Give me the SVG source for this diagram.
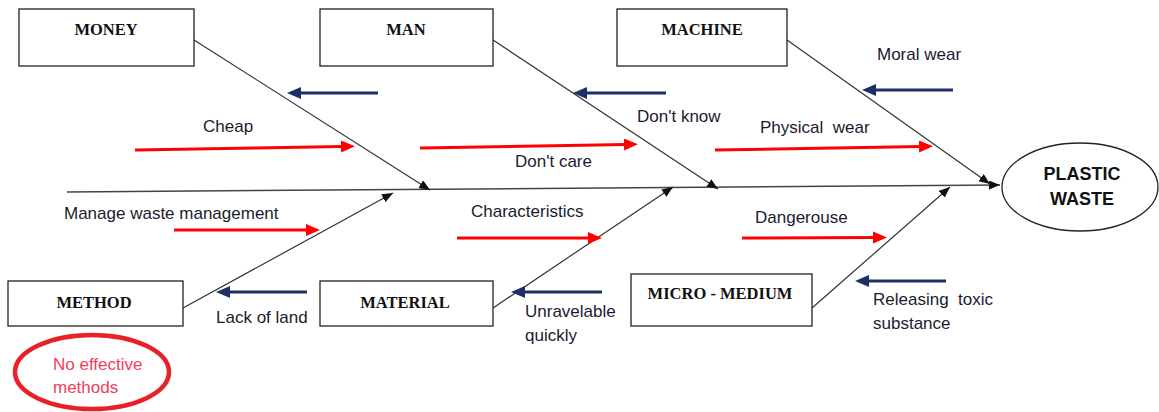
<svg xmlns="http://www.w3.org/2000/svg" width="1159" height="412" viewBox="0 0 1159 412">
<defs>
<style>
.box{fill:#fff;stroke:#222;stroke-width:1.3}
.bt{font-family:"Liberation Serif","Times New Roman",serif;font-weight:bold;font-size:16.5px;fill:#111;text-anchor:middle}
.lb{font-family:"Liberation Sans",Arial,sans-serif;font-size:17px;fill:#1b1b30}
.pw{font-family:"Liberation Sans",Arial,sans-serif;font-weight:bold;font-size:18px;fill:#111;text-anchor:middle}
.bone{stroke:#333;stroke-width:1.2;fill:none;marker-end:url(#mb)}
.red{stroke:#ff0000;stroke-width:3;fill:none;marker-end:url(#mr)}
.navy{stroke:#1f2f66;stroke-width:3;fill:none;marker-end:url(#mn)}
</style>
<marker id="mb" markerUnits="userSpaceOnUse" markerWidth="12" markerHeight="10" refX="11" refY="4.5" orient="auto"><path d="M0,0 L11,4.5 L0,9 z" fill="#111"/></marker>
<marker id="mr" markerUnits="userSpaceOnUse" markerWidth="15" markerHeight="13" refX="2" refY="6" orient="auto"><path d="M0,0 L14,6 L0,12 z" fill="#ff0000"/></marker>
<marker id="mn" markerUnits="userSpaceOnUse" markerWidth="15" markerHeight="13" refX="2" refY="6" orient="auto"><path d="M0,0 L14,6 L0,12 z" fill="#1f2f66"/></marker>
</defs>
<rect width="1159" height="412" fill="#fff"/>
<g id="connectors">
<line class="bone" x1="67" y1="192" x2="1000" y2="185" style="stroke:#444;stroke-width:1.5"/>
<line class="bone" x1="194" y1="40" x2="430" y2="190"/>
<line class="bone" x1="493" y1="40" x2="718" y2="189"/>
<line class="bone" x1="787" y1="40" x2="990" y2="184"/>
<line class="bone" x1="183" y1="308" x2="393" y2="193"/>
<line class="bone" x1="493" y1="308" x2="673" y2="187"/>
<line class="bone" x1="812" y1="308" x2="950" y2="187"/>
<line class="red" x1="135" y1="150" x2="343" y2="146.5"/>
<line class="red" x1="420" y1="148" x2="626" y2="144.5"/>
<line class="red" x1="715" y1="150" x2="921" y2="146.5"/>
<line class="red" x1="174" y1="230" x2="308" y2="230"/>
<line class="red" x1="457" y1="238" x2="590" y2="238"/>
<line class="red" x1="742" y1="238" x2="875" y2="237.5"/>
<line class="navy" x1="378" y1="93" x2="299" y2="93"/>
<line class="navy" x1="666" y1="93" x2="585" y2="93"/>
<line class="navy" x1="953" y1="90" x2="874" y2="90"/>
<line class="navy" x1="307" y1="292" x2="228" y2="292"/>
<line class="navy" x1="602" y1="292" x2="523" y2="292"/>
<line class="navy" x1="946" y1="281" x2="867" y2="281"/>
</g>
<g id="money"><rect class="box" x="19" y="9" width="175" height="57"/><text class="bt" x="106" y="35">MONEY</text></g>
<g id="man"><rect class="box" x="320" y="9" width="173" height="57"/><text class="bt" x="406" y="35">MAN</text></g>
<g id="machine"><rect class="box" x="617" y="9" width="170" height="57"/><text class="bt" x="702" y="35">MACHINE</text></g>
<g id="method"><rect class="box" x="8" y="281" width="175" height="45"/><text class="bt" x="94" y="308">METHOD</text></g>
<g id="material"><rect class="box" x="320" y="281" width="173" height="45"/><text class="bt" x="405" y="308">MATERIAL</text></g>
<g id="micro"><rect class="box" x="631" y="274" width="181" height="52"/><text class="bt" x="720" y="299">MICRO - MEDIUM</text></g>
<g id="plastic-waste">
<ellipse cx="1080" cy="187" rx="78" ry="44" fill="#fff" stroke="#222" stroke-width="1.3"/>
<text class="pw" x="1082" y="180">PLASTIC</text>
<text class="pw" x="1082" y="205">WASTE</text>
</g>
<g id="labels">
<text class="lb" x="203" y="132">Cheap</text>
<text class="lb" x="637" y="122">Don't know</text>
<text class="lb" x="515" y="167">Don't care</text>
<text class="lb" x="760" y="133" xml:space="preserve">Physical  wear</text>
<text class="lb" x="877" y="60">Moral wear</text>
<text class="lb" x="64" y="219">Manage waste management</text>
<text class="lb" x="471" y="217">Characteristics</text>
<text class="lb" x="755" y="223">Dangerouse</text>
<text class="lb" x="216" y="323">Lack of land</text>
<text class="lb" x="525" y="317">Unravelable</text>
<text class="lb" x="525" y="341">quickly</text>
<text class="lb" x="873" y="305" xml:space="preserve">Releasing  toxic</text>
<text class="lb" x="873" y="329">substance</text>
</g>
<g id="no-effective">
<ellipse cx="92" cy="372" rx="77" ry="37" fill="none" stroke="#e8202a" stroke-width="4.5"/>
<text class="lb" x="53" y="370" style="fill:#f0405a">No effective</text>
<text class="lb" x="53" y="393" style="fill:#f0405a">methods</text>
</g>
</svg>
